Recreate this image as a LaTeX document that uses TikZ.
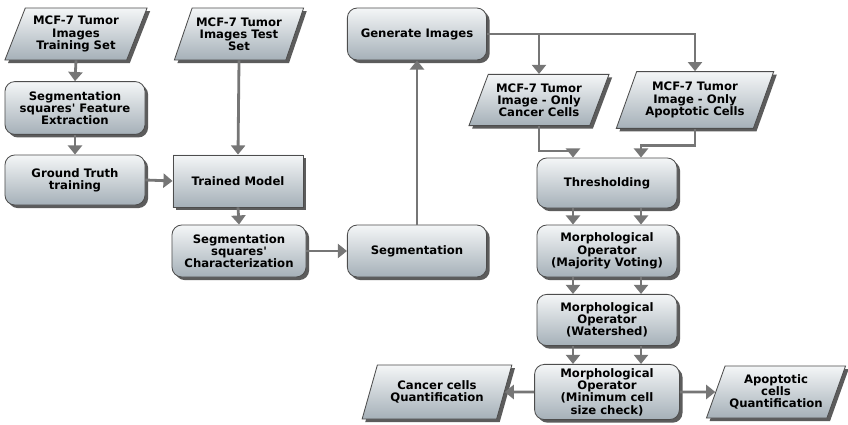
\documentclass[tikz,border=0pt]{standalone}
\usepackage{fontspec}
\setmainfont{DejaVu Sans}
\usetikzlibrary{positioning,shapes.geometric,shadows,arrows.meta}
\definecolor{boxtop}{HTML}{F4F6F7}
\definecolor{boxbot}{HTML}{A5B0B8}
\definecolor{boxline}{HTML}{4D4D4D}
\definecolor{arrowgray}{HTML}{767676}
\newcommand{\apos}{\textquotesingle}
\tikzset{
box/.style={draw=boxline, line width=0.6pt, top color=boxtop, bottom color=boxbot,
  drop shadow={shadow xshift=2.2pt, shadow yshift=-2.2pt, fill=black!80, opacity=.8},
  align=center, font=\bfseries\fontsize{8.3}{8.7}\selectfont, inner sep=2pt},
proc/.style={box, rounded corners=7pt},
plain/.style={box},
data/.style={box, trapezium, trapezium left angle=66, trapezium right angle=114, trapezium stretches=true},
flow/.style={draw=arrowgray, line width=2pt, -{Triangle[width=10pt,length=6.5pt]}}
}

\begin{document}
\begin{tikzpicture}[x=0.025cm, y=-0.025cm]
\useasboundingbox (0,0) rectangle (848,425);

% training branch
\node[data, minimum width=3.58cm, minimum height=1.3cm] (trs) at (76,34) {MCF-7 Tumor\\Images\\Training Set};
\node[proc, minimum width=3.5cm, minimum height=1.32cm] (fea) at (75,108) {Segmentation\\squares\apos{} Feature\\Extraction};
\node[proc, minimum width=3.5cm, minimum height=1.25cm] (gtt) at (75,180) {Ground Truth\\training};

% test branch
\node[data, minimum width=3.25cm, minimum height=1.3cm] (tst) at (239,34) {MCF-7 Tumor\\Images Test\\Set};
\node[plain, minimum width=3.25cm, minimum height=1.3cm] (tmd) at (238,181) {Trained Model};
\node[proc, minimum width=3.35cm, minimum height=1.3cm] (chr) at (239,251) {Segmentation\\squares\apos\\Characterization};
\node[proc, minimum width=3.48cm, minimum height=1.3cm] (seg) at (417,251) {Segmentation};
\node[proc, minimum width=3.48cm, minimum height=1.3cm] (gen) at (417,34) {Generate Images};

% image processing
\node[data, minimum width=3.52cm, minimum height=1.28cm] (can) at (539,100) {MCF-7 Tumor\\Image - Only\\Cancer Cells};
\node[data, minimum width=3.95cm, minimum height=1.42cm] (apo) at (695,100) {MCF-7 Tumor\\Image - Only\\Apoptotic Cells};
\node[proc, minimum width=3.5cm, minimum height=1.25cm] (thr) at (607,183) {Thresholding};
\node[proc, minimum width=3.5cm, minimum height=1.3cm] (maj) at (607,251) {Morphological\\Operator\\(Majority Voting)};
\node[proc, minimum width=3.5cm, minimum height=1.28cm] (wat) at (607,320) {Morphological\\Operator\\(Watershed)};
\node[proc, minimum width=3.62cm, minimum height=1.38cm] (mcs) at (607,392) {Morphological\\Operator\\(Minimum cell\\size check)};
\node[data, minimum width=3.75cm, minimum height=1.35cm] (cq) at (437,392) {Cancer cells\\Quantification};
\node[data, minimum width=3.48cm, minimum height=1.3cm] (aq) at (776,392) {Apoptotic\\cells\\Quantification};

\draw[flow] (trs.south) -- (fea.north);
\draw[flow] (fea.south) -- (gtt.north);
\draw[flow] (gtt.east) -- (tmd.west);
\draw[flow] (tst.south) -- (tmd.north);
\draw[flow] (tmd.south) -- (chr.north);
\draw[flow] (chr.east) -- (seg.west);
\draw[flow] (seg.north) -- (gen.south);
\draw[flow] (gen.east) -| (can.north);
\draw[flow] (gen.east) -| (apo.north);
\draw[flow] (can.south) -- ++(0,25) -| ([xshift=-0.85cm]thr.north);
\draw[flow] (apo.south) -- ++(0,17) -| ([xshift=0.85cm]thr.north);
\foreach \a/\b in {thr/maj, maj/wat, wat/mcs}
  \foreach \s in {-0.85cm, 0.85cm}
    \draw[flow] ([xshift=\s]\a.south) -- ([xshift=\s]\b.north);
\draw[flow] (mcs.west) -- (cq.east);
\draw[flow] (mcs.east) -- (aq.west);
\end{tikzpicture}
\end{document}
